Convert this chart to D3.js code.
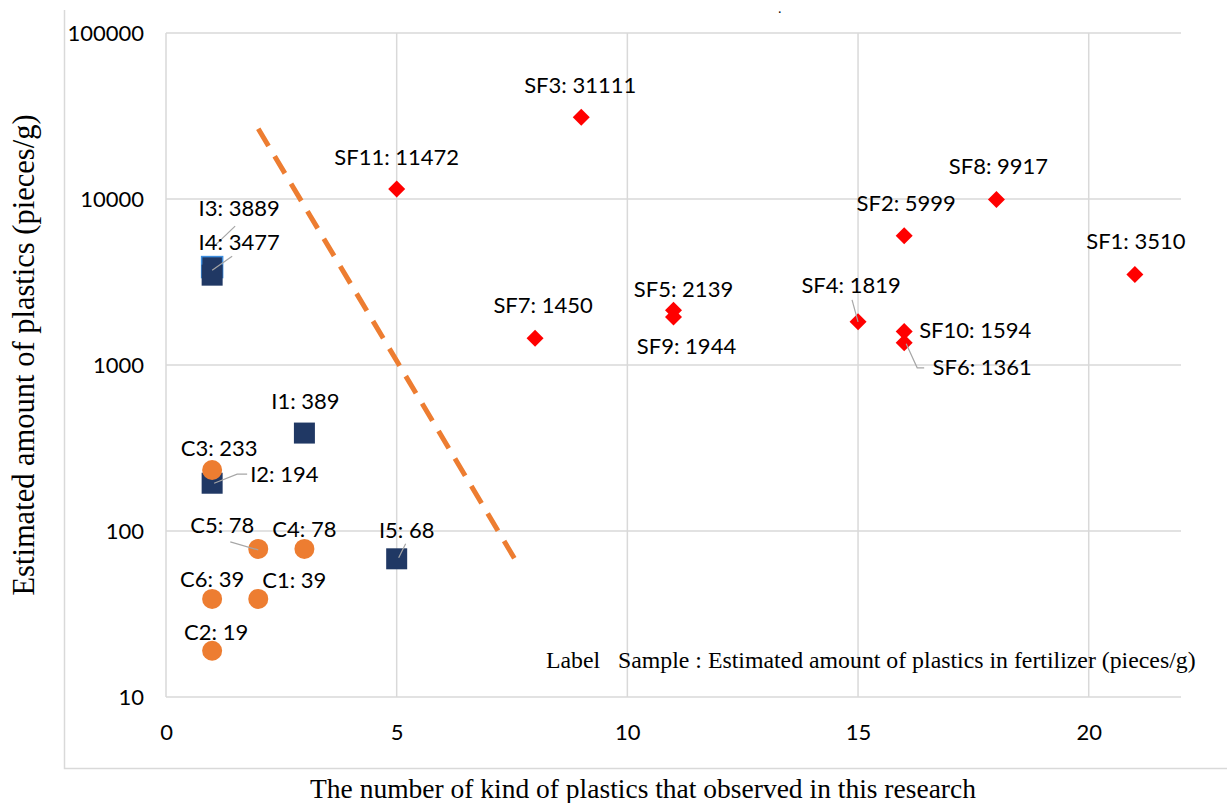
<!DOCTYPE html>
<html><head><meta charset="utf-8">
<script src="https://cdn.jsdelivr.net/npm/d3@7"></script>
<style>body{margin:0;background:#fff}svg{display:block}</style>
</head><body>
<svg id="c" width="1227" height="803"></svg>
<script>
// ---- data ----
const cNames = ["C1","C2","C3","C4","C5","C6"];
const cKinds = [2,1,1,3,2,1];
const cValues = [39,19,233,78,78,39];

const iNames = ["I3","I1","I2","I4","I5"];
const iKinds = [1,3,1,1,5];
const iValues = [3889,389,194,3477,68];

const sfNames = ["SF1","SF2","SF3","SF4","SF5","SF6","SF7","SF8","SF9","SF10","SF11"];
const sfKinds = [21,16,9,15,11,16,8,18,11,16,5];
const sfValues = [3510,5999,31111,1819,2139,1361,1450,9917,1944,1594,11472];

const trendX = [2.0, 7.6];
const trendY = [26500, 65];

const xTicks = [0,5,10,15,20];
const yTicks = [10,100,1000,10000,100000];

// label placement (pixel offsets from point) and leader lines
const labelOffsets = {
  C1:[36,-19], C2:[4,-18], C3:[7,-22], C4:[0,-20], C5:[-36,-24], C6:[0,-20],
  I1:[1,-32], I2:[0,0], I3:[27,-59], I4:[27,-33], I5:[10,-29],
  SF1:[1,-33], SF2:[2,-33], SF3:[-1,-32], SF4:[-7,-37], SF5:[10,-21], SF6:[78,25],
  SF7:[8,-33], SF8:[2,-33], SF9:[13,29], SF10:[71,-1], SF11:[0,-32]
};
const leaders = {
  I3:[[0,-19],[23,-41]], I4:[[0,-5],[20,-19]],
  I2:[[2,0],[25,-9],[35,-9]], C5:[[0,1],[-28,-7]],
  I5:[[2,-1],[9,-15]], SF4:[[0,0],[-6,-22]], SF6:[[2,1],[13,25],[20,25]]
};
const labelAnchor = {I2:"start"};
const labelAnchorDx = {I2:[38,-9]};

// ---- drawing ----
const svg = d3.select("#c");
const x = d3.scaleLinear().domain([0,22]).range([166,1181]);
const y = d3.scaleLog().domain([10,100000]).range([697,33]);

// outer frame
svg.append("path").attr("d","M64.5,10 V768.5 H1227").attr("fill","none").attr("stroke","#d9d9d9").attr("stroke-width",1.5);
svg.append("text").attr("x",778).attr("y",13).attr("font-family","Liberation Serif").attr("font-size",14).text(".");

// gridlines
const g = svg.append("g");
g.selectAll(".hg").data(yTicks).enter().append("line")
  .attr("x1",x(0)).attr("x2",x(22)).attr("y1",d=>y(d)).attr("y2",d=>y(d))
  .attr("stroke","#d9d9d9").attr("stroke-width",1.5);
g.selectAll(".vg").data(xTicks).enter().append("line")
  .attr("x1",d=>x(d)).attr("x2",d=>x(d)).attr("y1",y(100000)).attr("y2",y(10))
  .attr("stroke","#d9d9d9").attr("stroke-width",1.5);

// axes labels via d3 axes
const font = "Lato, 'Open Sans', sans-serif";
const fs = 22;
const yAxis = svg.append("g").attr("transform","translate(144,0)")
  .call(d3.axisLeft(y).tickValues(yTicks).tickFormat(d3.format("d")).tickSize(0).tickPadding(0));
yAxis.select(".domain").remove();
yAxis.selectAll("text").attr("font-family",font).attr("font-size",fs).attr("fill","#000").attr("dy","0.35em");

const xAxis = svg.append("g").attr("transform","translate(0,732)")
  .call(d3.axisBottom(x).tickValues(xTicks).tickSize(0).tickPadding(0));
xAxis.select(".domain").remove();
xAxis.selectAll("text").attr("font-family",font).attr("font-size",fs).attr("fill","#000").attr("dy","0.35em");

// axis titles
svg.append("text").attr("x",643).attr("y",798).attr("text-anchor","middle")
  .attr("font-family","'Liberation Serif', serif").attr("font-size",27.5).text("The number of kind of plastics that observed in this research");
svg.append("text").attr("transform","translate(34,355) rotate(-90)").attr("text-anchor","middle")
  .attr("font-family","'Liberation Serif', serif").attr("font-size",30.5).text("Estimated amount of plastics (pieces/g)");

// note
svg.append("text").attr("x",546).attr("y",668)
  .attr("font-family","'Liberation Serif', serif").attr("font-size",23.8).attr("xml:space","preserve")
  .style("white-space","pre").text("Label   Sample : Estimated amount of plastics in fertilizer (pieces/g)");

// trend line
svg.append("line").attr("x1",x(trendX[0])).attr("y1",y(trendY[0])).attr("x2",x(trendX[1])).attr("y2",y(trendY[1]))
  .attr("stroke","#ED7D31").attr("stroke-width",5).attr("stroke-dasharray","20,12");

// build records
const cData = cNames.map((n,i)=>({n,k:cKinds[i],v:cValues[i]}));
const iData = iNames.map((n,i)=>({n,k:iKinds[i],v:iValues[i]}));
const sfData = sfNames.map((n,i)=>({n,k:sfKinds[i],v:sfValues[i]}));

// markers
svg.selectAll(".sq").data(iData).enter().append("rect")
  .attr("x",d=>x(d.k)-10.5).attr("y",d=>y(d.v)-10.5).attr("width",21).attr("height",21)
  .attr("fill","#203864")
  .attr("stroke",d=>d.n==="I3"?"#3E8EDE":"none").attr("stroke-width",1.5);
svg.selectAll(".ci").data(cData).enter().append("circle")
  .attr("cx",d=>x(d.k)).attr("cy",d=>y(d.v)).attr("r",10).attr("fill","#ED7D31");
svg.selectAll(".di").data(sfData).enter().append("path")
  .attr("d",d=>{const cx=x(d.k),cy=y(d.v),r=8.5;return `M${cx},${cy-r}L${cx+r},${cy}L${cx},${cy+r}L${cx-r},${cy}Z`;})
  .attr("fill","#FF0000");

// labels + leaders
const all = cData.concat(iData, sfData);
all.forEach(d=>{
  const px=x(d.k), py=y(d.v);
  if(leaders[d.n]){
    svg.append("polyline").attr("points",leaders[d.n].map(p=>[px+p[0],py+p[1]].join(",")).join(" "))
      .attr("fill","none").attr("stroke","#a6a6a6").attr("stroke-width",1.2);
  }
  let off = labelOffsets[d.n], anchor="middle";
  if(labelAnchor[d.n]){ anchor=labelAnchor[d.n]; off=labelAnchorDx[d.n]; }
  svg.append("text").attr("x",px+off[0]).attr("y",py+off[1]).attr("dy","0.35em")
    .attr("text-anchor",anchor).attr("font-family",font).attr("font-size",fs).attr("fill","#000")
    .text(d.n+": "+d.v);
});
</script>
</body></html>
